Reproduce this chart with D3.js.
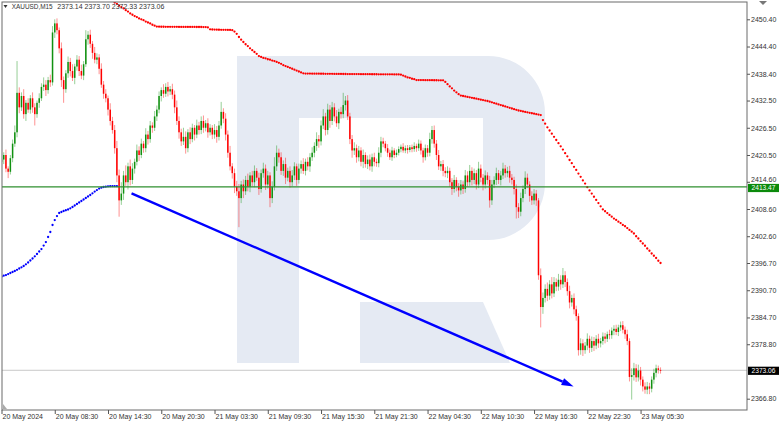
<!DOCTYPE html>
<html><head><meta charset="utf-8">
<script src="https://cdn.jsdelivr.net/npm/d3@7"></script>
<style>html,body{margin:0;padding:0;background:#fff;} svg{display:block;} text{font-family:"Liberation Sans",Arial,sans-serif;}</style>
</head><body><svg id="c" width="782" height="421"></svg>
<script>
// ---------------- DATA ----------------
const symbol = "XAUUSD,M15";
const open0 = 2419.0;
const closes = [
2419.5,2420.5,2417.5,2416.8,2419.8,2423,2425.5,2434.2,2431,2433.5,
2429.5,2432,2430.5,2433,2431,2429.5,2432,2433,2435.5,2436,
2434.8,2437,2436.5,2447.5,2449.5,2448,2444,2437,2435,2438.5,
2441,2439,2437.5,2440,2441.5,2439,2438,2440.5,2446,2447,
2445,2443,2441.5,2442,2439.5,2436,2434,2433,2430.5,2428,
2426,2422,2416,2410.5,2412,2416,2414.5,2418,2415,2417.5,
2419,2421.5,2420.5,2423,2422,2425,2424,2427,2426.5,2429,
2430.5,2433.5,2434.8,2434,2435.5,2434.5,2435,2433.8,2431,2428,
2425.5,2423.5,2424.5,2422,2425.5,2424,2426.5,2425,2427,2426,
2428,2426.5,2427.5,2425.5,2426.5,2425,2426,2424.5,2427,2430,
2428.5,2425,2421,2418,2416.5,2413.5,2412.5,2411,2414,2412.5,
2415,2413.5,2416,2414.5,2417,2415.5,2413,2416.5,2417.5,2414,
2416,2411,2413.5,2418,2421,2420,2417,2418.5,2415.5,2417,
2414.5,2416,2418,2415,2417.5,2418.5,2417,2419,2418,2420,
2421,2422.5,2424,2423.5,2427,2429,2426,2430.5,2428,2431,
2429,2427.5,2430,2429.5,2431.5,2432.5,2429,2424,2421.5,2422,
2420,2421.5,2419,2420.5,2418.5,2419.5,2418,2420,2419,2418.7,
2421,2423.5,2423,2422,2421,2420,2421.5,2420.5,2421,2421.8,
2422.3,2421.5,2422,2421.6,2422.2,2421.8,2422.5,2422,2423,2421.5,
2420,2422,2421,2424,2426,2423,2420.5,2418,2418.5,2417,
2416.5,2417,2414.5,2413,2415,2413.5,2412.7,2414,2413,2416,
2414.5,2417,2415,2416.5,2414,2417.5,2415.5,2414,2416,2415,
2410.5,2414,2415,2416.5,2415,2416,2417.5,2416.5,2417,2415.5,
2415,2413,2409,2408,2411,2413,2415.5,2414,2411.5,2410.5,
2412,2410.5,2394,2387,2389,2391,2389.5,2392,2390,2392.5,
2391.5,2393,2392,2394,2392.5,2390.5,2388,2389,2386.5,2385,
2377.5,2379,2377.5,2378.5,2380,2378,2379.5,2378.5,2380,2379,
2379.5,2380.5,2380,2381,2380.8,2381.8,2382.2,2381.5,2382.5,2383,
2382,2381,2379.5,2371.6,2372,2373.5,2371.5,2373,2371,2369.5,
2368.8,2369.5,2369,2371,2372.5,2373.5,2373.14,2373.06];
const wickUp = [
0.8,0.6,1.2,0.5,0.7,0.9,1.5,7.0,1.2,0.8, 1.5,0.6,1.0,0.7,1.3,0.9,0.5,1.1,0.8,1.6,
1.0,0.7,1.2,1.4,0.9,1.1,0.6,1.3,0.8,0.7, 1.2,0.9,1.5,0.6,1.0,0.8,1.4,0.7,2.0,0.8,
1.1,0.6,1.3,0.9,0.7,1.2,0.8,1.0,0.6,1.4, 0.9,1.1,1.6,1.3,2.5,1.0,2.2,0.8,1.5,1.2,
0.7,1.3,0.9,1.1,0.6,1.4,0.8,1.0,0.7,1.2, 0.9,1.0,0.6,1.3,0.8,1.1,0.7,1.2,0.9,1.5,
1.0,0.8,2.0,1.2,0.7,1.1,0.9,0.6,1.3,0.8, 1.0,1.2,0.7,1.1,0.8,0.6,1.3,0.9,1.0,2.2,
0.8,1.2,0.9,1.5,0.7,1.0,1.3,1.6,0.8,1.1, 0.9,1.4,0.7,1.0,1.2,0.6,1.1,0.8,1.3,0.9,
1.0,0.7,1.2,2.0,1.6,0.9,1.1,0.8,1.4,0.7, 1.0,1.2,0.9,0.6,1.1,0.8,1.3,0.7,1.0,0.9,
1.2,0.8,1.5,0.9,1.1,1.6,0.8,1.3,1.0,1.2, 0.9,1.4,0.7,1.1,2.7,1.0,1.2,0.8,0.9,1.3,
0.8,1.0,0.7,1.2,0.6,0.9,1.1,0.8,1.0,0.7, 1.2,1.0,0.8,0.6,0.9,0.7,0.8,0.5,0.7,0.6,
0.5,0.8,0.6,0.7,0.5,0.6,0.8,0.5,0.9,0.7, 0.6,0.8,0.7,1.4,0.9,1.0,0.8,1.1,0.7,0.9,
0.8,1.0,0.7,0.9,1.1,0.6,0.8,1.0,0.7,1.2, 0.9,1.3,0.8,1.0,0.7,1.5,0.9,0.8,1.1,0.7,
0.9,1.0,0.8,1.2,0.7,1.0,1.3,0.8,0.9,1.1, 0.8,0.7,1.0,0.9,1.2,0.8,1.4,0.9,0.7,1.0,
1.0,0.8,0.5,1.5,1.2,1.0,1.4,0.9,1.6,1.1, 0.8,1.3,1.0,1.6,0.9,0.8,1.2,0.7,1.0,0.8,
0.6,1.1,0.9,0.8,1.2,0.7,1.0,0.9,0.8,1.1, 0.7,0.9,0.8,0.6,1.0,0.7,0.8,0.9,0.6,0.8,
0.9,0.7,1.0,0.6,1.5,1.2,0.9,1.3,0.8,0.7, 0.9,1.0,0.8,0.7,0.9,0.8,0.6,0.56];
const wickDn = [
0.7,1.0,0.8,1.4,0.6,0.9,0.7,1.1,1.3,0.8, 1.0,1.5,0.7,0.9,1.2,2.5,0.8,1.1,0.6,0.9,
1.3,0.8,1.0,0.7,1.2,0.9,1.1,1.5,3.0,0.8, 1.0,1.2,0.7,1.4,0.9,1.1,0.8,1.0,0.6,1.2,
0.9,1.3,0.8,1.0,1.2,0.7,1.1,0.9,1.3,1.0, 0.8,1.2,1.5,3.6,1.0,1.4,0.8,1.6,1.2,0.9,
1.1,0.8,1.3,0.7,1.0,0.9,1.2,0.8,1.1,0.7, 1.0,0.8,1.2,0.9,0.7,1.1,0.8,1.0,1.3,0.9,
1.4,1.0,0.8,1.2,0.9,1.1,0.7,1.3,0.8,1.0, 0.9,1.1,0.8,1.2,0.7,1.0,0.9,1.3,0.8,0.7,
1.0,1.3,1.1,0.9,1.2,1.4,1.0,6.4,1.1,1.5, 0.8,1.0,1.2,0.9,1.1,0.7,1.3,0.8,1.0,1.2,
0.9,2.0,1.1,0.8,1.0,1.2,0.9,1.1,1.4,0.8, 1.2,0.9,1.0,1.3,0.8,1.1,0.7,1.0,0.9,1.2,
0.8,1.0,1.1,1.4,0.9,0.8,1.2,1.0,1.5,0.9, 1.1,0.8,1.3,1.0,0.9,1.2,0.8,1.1,1.6,1.0,
1.2,0.9,1.0,1.4,0.8,1.1,0.9,1.2,1.0,0.8, 0.9,1.0,0.8,0.7,0.9,0.6,0.8,0.7,0.5,0.6,
0.7,0.5,0.6,0.8,0.5,0.7,0.6,0.8,0.6,0.9, 1.2,0.7,0.9,0.8,1.0,0.9,1.1,0.8,1.0,1.2,
0.9,1.1,1.0,1.3,0.8,1.0,1.4,0.9,1.1,0.8, 1.0,0.8,1.2,0.9,1.1,0.8,1.0,1.3,0.9,1.0,
1.6,1.0,0.8,1.1,0.9,1.2,0.8,1.0,0.9,1.1, 1.0,1.2,2.5,1.4,1.0,0.9,1.1,0.8,1.3,1.0,
0.9,1.2,1.0,4.5,1.5,1.0,1.2,0.9,1.1,0.8, 1.0,0.9,1.2,0.8,1.1,1.0,1.3,0.9,1.1,1.0,
1.2,1.0,1.3,0.8,1.0,1.1,0.9,1.2,0.8,1.0, 0.9,0.8,1.0,0.7,0.9,0.8,1.0,0.7,0.9,0.8,
0.8,1.0,0.9,1.0,5.0,1.2,1.0,0.9,1.3,1.1, 0.9,1.0,1.2,0.8,0.9,1.0,0.8,0.73];
const blueStart = 0;
const blueMA = [
2393.72,2393.90,2394.05,2394.27,2394.50,2394.72,2394.94,2395.20,2395.49,2395.75,
2396.04,2396.41,2396.81,2397.25,2397.69,2398.17,2398.68,2399.23,2399.78,2400.55,
2401.32,2402.43,2403.53,2405.07,2406.17,2407.05,2407.72,2407.94,2408.16,2408.33,
2408.49,2408.75,2409.04,2409.37,2409.70,2410.03,2410.36,2410.69,2411.02,2411.35,
2411.68,2412.06,2412.45,2412.78,2413.11,2413.29,2413.45,2413.53,2413.60,2413.64,
2413.66,2413.66,2413.66];
const redStart = 51;
const redMA = [
2454.1,2453.8,2453.4,2453.1,2452.8,2452.4,2452.1,2451.7,2451.4,
2451.1,2450.9,2450.6,2450.4,2450.2,2449.9,2449.7,2449.5,2449.2,2449.0,
2448.8,2448.77,2448.76,2448.76,2448.75,2448.75,2448.75,2448.74,2448.74,2448.74,
2448.73,2448.73,2448.73,2448.72,2448.72,2448.72,2448.71,2448.71,2448.7,2448.7,
2448.7,2448.69,2448.68,2448.6,2448.2,2448.15,2448.13,2448.12,2448.1,2448.09,
2448.08,2448.07,2448.06,2448.05,2448.0,2447.7,2447.2,2446.5,2445.9,2445.4,
2444.9,2444.5,2444.0,2443.6,2443.2,2442.8,2442.3,2442.1,2441.9,2441.8,
2441.6,2441.5,2441.3,2441.2,2441.0,2440.8,2440.6,2440.3,2440.1,2439.9,
2439.7,2439.5,2439.3,2439.1,2438.9,2438.7,2438.5,2438.45,2438.44,2438.43,
2438.42,2438.42,2438.41,2438.41,2438.4,2438.4,2438.39,2438.39,2438.38,2438.38,
2438.37,2438.37,2438.36,2438.36,2438.35,2438.35,2438.34,2438.34,2438.33,2438.33,
2438.32,2438.32,2438.31,2438.31,2438.3,2438.3,2438.3,2438.29,2438.29,2438.29,
2438.28,2438.28,2438.28,2438.28,2438.27,2438.27,2438.27,2438.26,2438.26,2438.25,
2438.2,2438.0,2437.8,2437.6,2437.5,2437.3,2437.2,2437.0,2437.0,2437.0,
2437.0,2436.99,2436.99,2436.98,2436.98,2436.97,2436.97,2436.96,2436.96,2436.95,
2436.6,2436.1,2435.6,2435.2,2434.7,2434.3,2433.9,2433.6,2433.5,2433.4,
2433.3,2433.2,2433.1,2433.0,2432.9,2432.8,2432.7,2432.6,2432.5,2432.4,
2432.25,2432.1,2431.95,2431.8,2431.65,2431.5,2431.35,2431.2,2431.05,2430.9,
2430.75,2430.6,2430.45,2430.3,2430.2,2430.1,2430.0,2429.9,2429.8,2429.7,
2429.6,2429.5,2429.4,2429.3,2428.2,2427.4,2426.6,2425.9,2425.2,2424.5,
2423.8,2423.1,2422.4,2421.7,2420.9,2420.2,2419.4,2418.7,2417.9,2417.2,
2416.4,2415.7,2414.9,2414.2,2413.4,2412.7,2412.0,2411.3,2410.6,2409.9,
2409.2,2408.5,2408.1,2407.7,2407.3,2406.9,2406.5,2406.2,2405.8,2405.5,
2405.1,2404.8,2404.4,2404.0,2403.6,2403.2,2402.6,2402.1,2401.5,2401.0,
2400.5,2399.9,2399.4,2398.8,2398.3,2397.8,2397.2,2396.7];
const priceTicks = [2450.40,2444.40,2438.40,2432.50,2426.50,2420.50,2414.60,2408.60,2402.60,2396.70,2390.70,2384.70,2378.80,2366.80];
const timeTicks = [0,24,48,72,96,120,144,168,192,216,240,264,288];
const timeLabels = ["20 May 2024","20 May 08:30","20 May 14:30","20 May 20:30","21 May 03:30","21 May 09:30","21 May 15:30","21 May 21:30","22 May 04:30","22 May 10:30","22 May 16:30","22 May 22:30","23 May 05:30"];
const levelLine = 2413.47;
const arrowFrom = {bar: 58.6, price: 2412.06};
const arrowTo = {bar: 257.8, price: 2369.5};

// ---------------- CHART ----------------
const svg = d3.select("#c");
const P = {l: 2, t: 2, r: 747, b: 410};
const step = 2.219;
const n = closes.length;
const x = d3.scaleLinear().domain([0, n - 1]).range([1.5, 1.5 + (n - 1) * step]);
const y = d3.scaleLinear().domain([2366.80, 2450.40]).range([398.7, 19.3]);

const bars = closes.map((c, i) => {
  const o = i === 0 ? open0 : closes[i - 1];
  return {i, o, c, h: Math.max(o, c) + wickUp[i], l: Math.min(o, c) - wickDn[i]};
});

svg.append("defs").append("clipPath").attr("id", "clip")
  .append("rect").attr("x", P.l).attr("y", P.t).attr("width", P.r - P.l).attr("height", P.b - P.t);

// watermark
const wm = svg.append("g").attr("fill", "#e5eaf3");
wm.append("path").attr("d", "M237,56 H488 A57,57 0 0 1 545,113 V183 A57,57 0 0 1 488,240 H360 V180 H483 V118 H299 V363 H237 Z");
wm.append("path").attr("d", "M360,302 H483 L510,363 H360 Z");

const g = svg.append("g").attr("clip-path", "url(#clip)");

// current price line
const last = bars[n - 1];
g.append("line").attr("x1", P.l).attr("x2", P.r).attr("y1", y(last.c)).attr("y2", y(last.c))
  .attr("stroke", "#c8c8c8").attr("stroke-width", 1);

// MA dots
g.append("g").selectAll("circle").data(redMA).join("circle")
  .attr("cx", (d, k) => x(redStart + k)).attr("cy", d => y(d)).attr("r", 1.15).attr("fill", "#ff0000");
g.append("g").selectAll("circle").data(blueMA).join("circle")
  .attr("cx", (d, k) => x(blueStart + k)).attr("cy", d => y(d)).attr("r", 1.15).attr("fill", "#0000ff");

// candles
const up = "#119111", dn = "#ff0000";
const cg = g.append("g");
cg.selectAll("line").data(bars).join("line")
  .attr("x1", d => x(d.i)).attr("x2", d => x(d.i))
  .attr("y1", d => y(d.h)).attr("y2", d => y(d.l))
  .attr("stroke", d => d.c >= d.o ? up : dn).attr("stroke-width", 0.8).attr("stroke-opacity", 0.55);
cg.selectAll("rect").data(bars).join("rect")
  .attr("x", d => x(d.i) - 0.75).attr("width", 1.5)
  .attr("y", d => y(Math.max(d.o, d.c)))
  .attr("height", d => Math.max(0.8, Math.abs(y(d.o) - y(d.c))))
  .attr("fill", d => d.c >= d.o ? up : dn);

// horizontal level
g.append("line").attr("x1", P.l).attr("x2", P.r).attr("y1", y(levelLine)).attr("y2", y(levelLine))
  .attr("stroke", "#2f8f2f").attr("stroke-width", 1.2);

// arrow
const ax1 = x(arrowFrom.bar), ay1 = y(arrowFrom.price), ax2 = x(arrowTo.bar), ay2 = y(arrowTo.price);
const ang = Math.atan2(ay2 - ay1, ax2 - ax1), hl = 12, hw = 3.8;
const bx = ax2 - hl * Math.cos(ang), by = ay2 - hl * Math.sin(ang);
g.append("line").attr("x1", ax1).attr("y1", ay1).attr("x2", bx).attr("y2", by)
  .attr("stroke", "#0000ff").attr("stroke-width", 2.4);
g.append("path").attr("fill", "#0000ff").attr("d",
  `M${ax2},${ay2} L${bx - hw * Math.sin(ang)},${by + hw * Math.cos(ang)} L${bx + hw * Math.sin(ang)},${by - hw * Math.cos(ang)} Z`);

// frame
svg.append("rect").attr("x", P.l).attr("y", P.t).attr("width", P.r - P.l).attr("height", P.b - P.t)
  .attr("fill", "none").attr("stroke", "#6a6a6a").attr("stroke-width", 1);

// right axis
const ya = svg.append("g").attr("transform", `translate(${P.r},0)`)
  .call(d3.axisRight(y).tickValues(priceTicks).tickSize(3).tickPadding(1).tickFormat(d3.format(".2f")));
ya.select(".domain").remove();
ya.selectAll("line").attr("stroke", "#555");
ya.selectAll("text").attr("font-size", "7px").attr("fill", "#333").attr("font-family", '"Liberation Sans",Arial,sans-serif');
// label just above the level tag sits slightly higher so the two stay apart
ya.selectAll(".tick").filter(d => Math.abs(y(d) - y(levelLine)) < 9).select("text").attr("dy", "-0.05em");

// bottom axis
const xa = svg.append("g").attr("transform", `translate(0,${P.b})`)
  .call(d3.axisBottom(x).tickValues(timeTicks).tickSize(4).tickFormat((d, k) => timeLabels[k]));
xa.select(".domain").remove();
xa.selectAll("line").attr("stroke", "#555");
xa.selectAll("text").attr("font-size", "7px").attr("fill", "#333").attr("text-anchor", "start")
  .attr("x", 0.5).attr("y", 4).attr("font-family", '"Liberation Sans",Arial,sans-serif');

// price labels
function tag(price, bg, shift) {
  const yy = y(price);
  svg.append("rect").attr("x", P.r + 1).attr("y", yy - 3.6 + shift).attr("width", 31).attr("height", 8.2).attr("fill", bg);
  svg.append("text").attr("x", P.r + 16.5).attr("y", yy + shift + 0.5).attr("dy", "0.34em").attr("text-anchor", "middle")
    .attr("font-size", "6.6px").attr("fill", "#fff").text(d3.format(".2f")(price));
}
tag(levelLine, "#0b8a0b", 0.6);
tag(last.c, "#000", 0);

// markers
svg.append("path").attr("d", "M759,1 L767,1 L763,5 Z").attr("fill", "#777");
svg.append("path").attr("d", "M3,404 L3,409 L7,409 Z").attr("fill", "#aaa");

// header
svg.append("path").attr("d", "M3.5,5 L7.5,5 L5.5,8 Z").attr("fill", "#333");
svg.append("text").attr("x", 11.7).attr("y", 9.3).attr("font-size", "7px").attr("fill", "#333")
  .attr("textLength", 41).attr("lengthAdjust", "spacingAndGlyphs").text(symbol);
const f = d3.format(".2f");
svg.append("text").attr("x", 57.3).attr("y", 9.3).attr("font-size", "7px").attr("fill", "#333")
  .text(`${f(last.o)} ${f(last.h)} ${f(last.l)} ${f(last.c)}`);
</script></body></html>
